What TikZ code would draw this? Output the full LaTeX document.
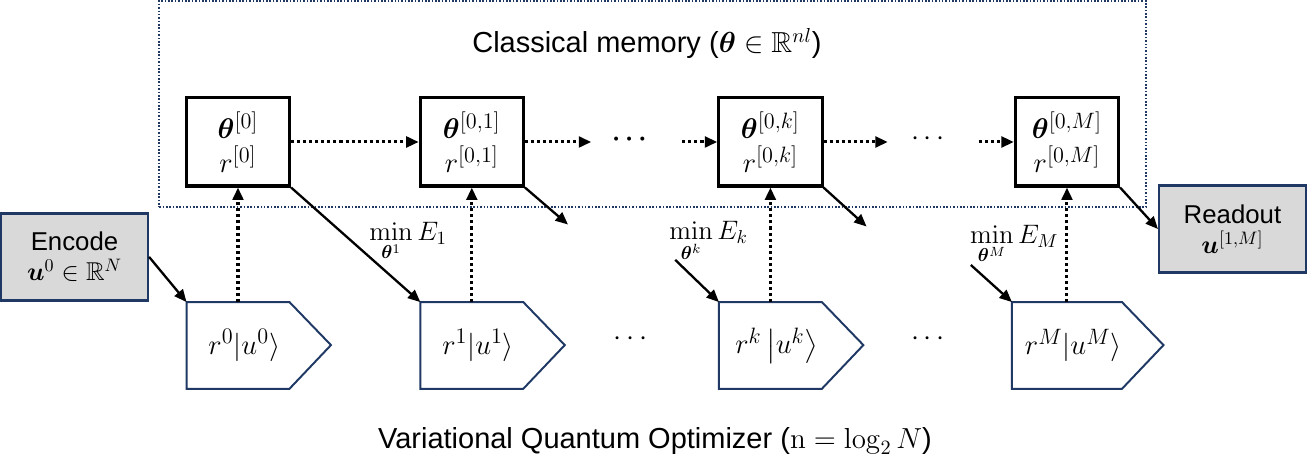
\RequirePackage{fix-cm}
\documentclass[tikz,border=0pt]{standalone}
\usepackage{amsmath,amssymb,bm}
\usepackage[no-math]{fontspec}
\setmainfont{Liberation Sans}
\DeclareMathSizes{16}{16}{12.5}{10}
\usetikzlibrary{arrows.meta,positioning}

\definecolor{navyline}{HTML}{1F3864}
\definecolor{boxgray}{HTML}{D9D9D9}

\begin{document}
\begin{tikzpicture}
                [x=0.02cm, y=-0.02cm,
                  every node/.style={font=\fontsize{16.3}{19}\selectfont},
                  memframe/.style={draw=navyline, densely dotted, line width=0.9pt,
                    minimum width=19.5cm, minimum height=4.08cm},
                  membox/.style={draw, line width=1.7pt, minimum width=2.04cm,
                    minimum height=1.74cm, align=center, inner sep=0pt,
                    font=\fontsize{16}{19}\selectfont},
                  vqobox/.style={minimum width=2.02cm, minimum height=1.7cm, inner sep=0pt,
                    font=\fontsize{16}{17}\selectfont},
                  vqoedge/.style={draw=navyline, line width=1.1pt, line join=miter},
                  iobox/.style={draw=navyline, fill=boxgray, line width=1.3pt,
                    minimum width=2.9cm, minimum height=1.72cm, align=center,
                    font=\fontsize{14.5}{17}\selectfont},
                  costlabel/.style={font=\fontsize{15}{17}\selectfont},
                  flow/.style={line width=1.3pt, -{Triangle[length=7pt, width=6pt]}},
                  memflow/.style={line width=1.7pt, dash pattern=on 1.7pt off 1.7pt,
                    -{Triangle[length=7pt, width=6pt]}},
                ]
                % classical memory
                \node [memframe] (memory) at (650.5,104) {};
                \node (memtitle) at (645,44) {Classical memory ($\boldsymbol{\theta}\in\mathbb{R}^{nl}$)};
                \node [membox] (mem0) at (241,141.5) {$\boldsymbol{\theta}^{[0]}$\\$r^{[0]}$};
                \node [membox] (mem1) at (472,141.5) {$\boldsymbol{\theta}^{[0,1]}$\\$r^{[0,1]}$};
                \node [membox] (memk) at (767,141.5) {$\boldsymbol{\theta}^{[0,k]}$\\$r^{[0,k]}$};
                \node [membox] (memM) at (1060,141.5) {$\boldsymbol{\theta}^{[0,M]}$\\$r^{[0,M]}$};
                \node (dotsA) at (630,139) {\Large$\boldsymbol{\cdots}$};
                \node (dotsB) at (925,139) {$\cdots$};

                % variational quantum optimizer
                \node [vqobox] (vqo0) at (241,342.5) {\hspace*{0.25cm}$r^0|u^0\rangle$};
                \node [vqobox] (vqo1) at (472,342.5) {\hspace*{0.25cm}$r^1|u^1\rangle$};
                \node [vqobox] (vqok) at (767,342.5) {\hspace*{0.25cm}$r^k\left|u^k\right\rangle$};
                \node [vqobox] (vqoM) at (1060,342.5) {\hspace*{0.25cm}$r^M|u^M\rangle$};
                \foreach \q in {vqo0,vqo1,vqok,vqoM}
                  \draw [vqoedge] (\q.north west) -- (\q.north east) -- ++(41,42.5)
                    -- (\q.south east) -- (\q.south west) -- cycle;
                \node (dotsC) at (631,336) {$\cdots$};
                \node (dotsD) at (925,336) {$\cdots$};
                \node (vqotitle) at (653,437) {Variational Quantum Optimizer ($\mathrm{n}=\log_2 N$)};

                % encode and readout
                \node [iobox] (encode) at (79.5,255) {Encode\\$\boldsymbol{u}^0\in\mathbb{R}^N$};
                \node [iobox] (readout) at (1223.5,227.5) {Readout\\$\boldsymbol{u}^{[1,M]}$};

                % cost labels
                \node [costlabel] (min1) at (409,240) {$\min\limits_{\boldsymbol{\theta}^1} E_1$};
                \node [costlabel] (mink) at (706,240) {$\min\limits_{\boldsymbol{\theta}^k} E_k$};
                \node [costlabel] (minM) at (1008,243) {$\min\limits_{\boldsymbol{\theta}^M} E_M$};

                % loose arrow ends
                \coordinate (out1) at (567,223);
                \coordinate (outk) at (862,225);
                \coordinate (ink) at (673,258);
                \coordinate (inM) at (965,263);
                \coordinate (to1) at (590,141.5);
                \coordinate (fromk) at (680,141.5);
                \coordinate (tok) at (883,141.5);
                \coordinate (fromM) at (973,141.5);

                % solid arrows
                \draw [flow] (encode.east) -- (vqo0.north west);
                \draw [flow] (mem0.south east) -- (vqo1.north west);
                \draw [flow] (mem1.south east) -- (out1);
                \draw [flow] (ink) -- (vqok.north west);
                \draw [flow] (memk.south east) -- (outk);
                \draw [flow] (inM) -- (vqoM.north west);
                \draw [flow] (memM.south east) -- (readout.west);

                % dotted arrows
                \foreach \s/\t in {vqo0/mem0, vqo1/mem1, vqok/memk, vqoM/memM}
                  \draw [memflow] (\s.north) -- (\t.south);
                \draw [memflow] (mem0.east) -- (mem1.west);
                \draw [memflow] (mem1.east) -- (to1);
                \draw [memflow] (fromk) -- (memk.west);
                \draw [memflow] (memk.east) -- (tok);
                \draw [memflow] (fromM) -- (memM.west);
            \end{tikzpicture}
\end{document}
